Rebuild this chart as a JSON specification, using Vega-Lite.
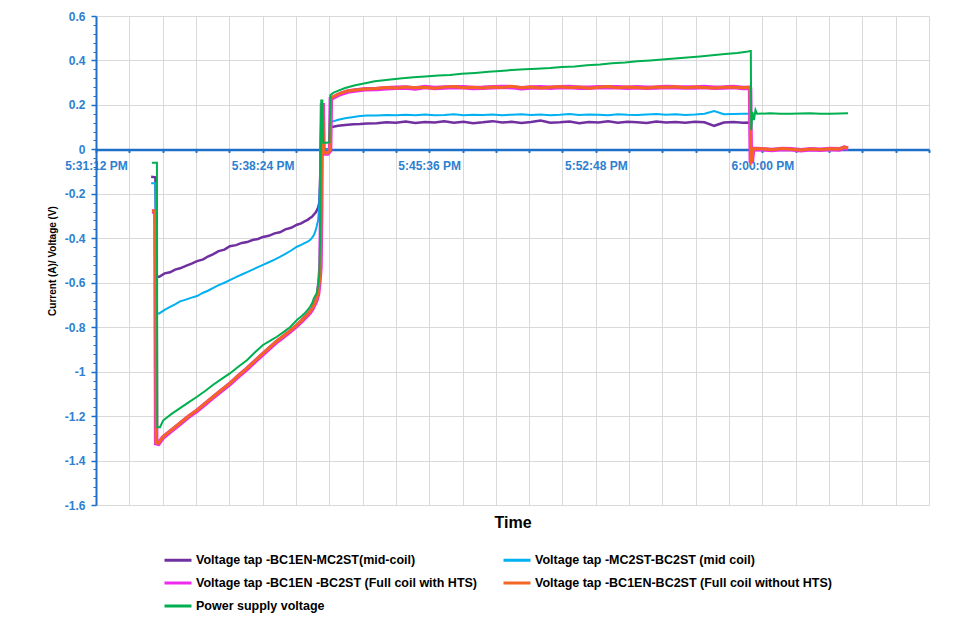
{
  "$schema": "https://vega.github.io/schema/vega-lite/v6.json",
  "width": 833,
  "height": 489,
  "autosize": {"type": "none"},
  "padding": {"left": 96, "top": 16, "right": 44, "bottom": 115},
  "background": "white",
  "config": {"view": {"stroke": null}, "font": "Liberation Sans"},
  "datasets": {
    "purple": [
      {"t":63215,"v":-0.123},{"t":63226,"v":-0.126},{"t":63229,"v":-0.573},{"t":63236,"v":-0.573},{"t":63250,"v":-0.558},{"t":63264,"v":-0.553},{"t":63277,"v":-0.541},{"t":63290,"v":-0.535},{"t":63305,"v":-0.524},{"t":63320,"v":-0.514},{"t":63334,"v":-0.503},{"t":63350,"v":-0.495},{"t":63362,"v":-0.482},{"t":63375,"v":-0.472},{"t":63390,"v":-0.458},{"t":63405,"v":-0.451},{"t":63419,"v":-0.436},{"t":63435,"v":-0.431},{"t":63450,"v":-0.421},{"t":63464,"v":-0.417},{"t":63478,"v":-0.408},{"t":63492,"v":-0.403},{"t":63505,"v":-0.394},{"t":63520,"v":-0.389},{"t":63535,"v":-0.378},{"t":63549,"v":-0.373},{"t":63563,"v":-0.36},{"t":63578,"v":-0.353},{"t":63593,"v":-0.339},{"t":63604,"v":-0.333},{"t":63614,"v":-0.323},{"t":63621,"v":-0.317},{"t":63627,"v":-0.309},{"t":63632,"v":-0.303},{"t":63637,"v":-0.293},{"t":63641,"v":-0.285},{"t":63644,"v":-0.277},{"t":63648,"v":-0.261},{"t":63651,"v":-0.241},{"t":63654,"v":-0.09},{"t":63656,"v":0.12},{"t":63659,"v":0.11},{"t":63661,"v":0.0},{"t":63677,"v":0.0},{"t":63680,"v":0.1},{"t":63687,"v":0.102},{"t":63700,"v":0.106},{"t":63718,"v":0.11},{"t":63740,"v":0.113},{"t":63757,"v":0.114},{"t":63775,"v":0.116},
      {"t":63800,"v":0.118},{"t":63825,"v":0.122},{"t":63850,"v":0.12},{"t":63875,"v":0.125},{"t":63900,"v":0.119},{"t":63925,"v":0.123},{"t":63950,"v":0.121},{"t":63975,"v":0.126},{"t":64000,"v":0.12},{"t":64025,"v":0.124},{"t":64050,"v":0.118},{"t":64075,"v":0.122},{"t":64100,"v":0.127},{"t":64125,"v":0.121},{"t":64150,"v":0.124},{"t":64175,"v":0.119},{"t":64200,"v":0.123},{"t":64225,"v":0.13},{"t":64250,"v":0.12},{"t":64275,"v":0.122},{"t":64300,"v":0.125},{"t":64325,"v":0.118},{"t":64350,"v":0.123},{"t":64375,"v":0.121},{"t":64400,"v":0.126},{"t":64425,"v":0.12},{"t":64450,"v":0.124},{"t":64475,"v":0.122},{"t":64500,"v":0.119},{"t":64525,"v":0.125},{"t":64550,"v":0.121},{"t":64575,"v":0.123},{"t":64600,"v":0.12},{"t":64625,"v":0.124},{"t":64650,"v":0.122},{"t":64675,"v":0.106},{"t":64700,"v":0.121},{"t":64725,"v":0.123},{"t":64750,"v":0.12},
      {"t":64766,"v":0.121},{"t":64769,"v":0.12},{"t":64771,"v":-0.01},{"t":64776,"v":0.0},{"t":64800,"v":0.0},{"t":64900,"v":0.0},{"t":65022,"v":0.0}
    ],
    "cyan": [
      {"t":63215,"v":-0.153},{"t":63226,"v":-0.153},{"t":63229,"v":-0.738},{"t":63236,"v":-0.738},{"t":63250,"v":-0.722},{"t":63264,"v":-0.709},{"t":63277,"v":-0.697},{"t":63290,"v":-0.684},{"t":63305,"v":-0.676},{"t":63320,"v":-0.667},{"t":63334,"v":-0.66},{"t":63350,"v":-0.645},{"t":63362,"v":-0.636},{"t":63375,"v":-0.624},{"t":63390,"v":-0.611},{"t":63405,"v":-0.6},{"t":63419,"v":-0.588},{"t":63435,"v":-0.575},{"t":63450,"v":-0.563},{"t":63464,"v":-0.552},{"t":63478,"v":-0.541},{"t":63492,"v":-0.53},{"t":63505,"v":-0.52},{"t":63520,"v":-0.508},{"t":63535,"v":-0.496},{"t":63549,"v":-0.484},{"t":63563,"v":-0.47},{"t":63578,"v":-0.455},{"t":63593,"v":-0.438},{"t":63604,"v":-0.43},{"t":63614,"v":-0.421},{"t":63621,"v":-0.415},{"t":63627,"v":-0.408},{"t":63632,"v":-0.398},{"t":63637,"v":-0.385},{"t":63641,"v":-0.368},{"t":63644,"v":-0.348},{"t":63648,"v":-0.318},{"t":63651,"v":-0.25},{"t":63654,"v":-0.093},{"t":63656,"v":0.155},{"t":63659,"v":0.13},{"t":63661,"v":0.0},{"t":63677,"v":0.0},{"t":63680,"v":0.125},{"t":63687,"v":0.126},{"t":63700,"v":0.133},{"t":63718,"v":0.14},{"t":63740,"v":0.146},{"t":63757,"v":0.15},{"t":63775,"v":0.152},
      {"t":63800,"v":0.152},{"t":63825,"v":0.155},{"t":63850,"v":0.153},{"t":63875,"v":0.156},{"t":63900,"v":0.154},{"t":63925,"v":0.157},{"t":63950,"v":0.153},{"t":63975,"v":0.155},{"t":64000,"v":0.158},{"t":64025,"v":0.154},{"t":64050,"v":0.156},{"t":64075,"v":0.155},{"t":64100,"v":0.157},{"t":64125,"v":0.154},{"t":64150,"v":0.156},{"t":64175,"v":0.158},{"t":64200,"v":0.155},{"t":64225,"v":0.157},{"t":64250,"v":0.154},{"t":64275,"v":0.156},{"t":64300,"v":0.159},{"t":64325,"v":0.155},{"t":64350,"v":0.157},{"t":64375,"v":0.156},{"t":64400,"v":0.154},{"t":64425,"v":0.158},{"t":64450,"v":0.156},{"t":64475,"v":0.155},{"t":64500,"v":0.157},{"t":64525,"v":0.159},{"t":64550,"v":0.156},{"t":64575,"v":0.158},{"t":64600,"v":0.155},{"t":64625,"v":0.157},{"t":64650,"v":0.16},{"t":64675,"v":0.172},{"t":64700,"v":0.158},{"t":64725,"v":0.159},{"t":64750,"v":0.16},
      {"t":64766,"v":0.16},{"t":64769,"v":0.158},{"t":64771,"v":-0.01},{"t":64776,"v":0.0},{"t":64800,"v":0.0},{"t":64900,"v":0.0},{"t":65022,"v":0.0}
    ],
    "magenta": [
      {"t":63217,"v":-0.279},{"t":63226,"v":-0.279},{"t":63228,"v":-1.322},{"t":63234,"v":-1.324},{"t":63246,"v":-1.296},{"t":63268,"v":-1.265},{"t":63290,"v":-1.234},{"t":63312,"v":-1.203},{"t":63334,"v":-1.176},{"t":63355,"v":-1.146},{"t":63375,"v":-1.117},{"t":63397,"v":-1.086},{"t":63419,"v":-1.056},{"t":63441,"v":-1.021},{"t":63464,"v":-0.987},{"t":63485,"v":-0.953},{"t":63505,"v":-0.921},{"t":63523,"v":-0.893},{"t":63541,"v":-0.865},{"t":63558,"v":-0.843},{"t":63575,"v":-0.82},{"t":63593,"v":-0.793},{"t":63604,"v":-0.775},{"t":63614,"v":-0.757},{"t":63621,"v":-0.745},{"t":63627,"v":-0.733},{"t":63633,"v":-0.718},{"t":63637,"v":-0.703},{"t":63641,"v":-0.689},{"t":63644,"v":-0.676},{"t":63648,"v":-0.649},{"t":63651,"v":-0.6},{"t":63654,"v":-0.53},{"t":63656,"v":-0.26},{"t":63657,"v":0.04},{"t":63658,"v":0.198},{"t":63660,"v":0.198},{"t":63662,"v":-0.005},{"t":63664,"v":-0.019},{"t":63673,"v":-0.019},{"t":63679,"v":-0.005},{"t":63681,"v":0.228},{"t":63691,"v":0.237},{"t":63705,"v":0.249},{"t":63725,"v":0.26},{"t":63744,"v":0.265},{"t":63770,"v":0.27},
      {"t":63800,"v":0.272},{"t":63825,"v":0.275},{"t":63850,"v":0.277},{"t":63875,"v":0.278},{"t":63900,"v":0.274},{"t":63925,"v":0.28},{"t":63950,"v":0.276},{"t":63975,"v":0.278},{"t":64000,"v":0.28},{"t":64025,"v":0.279},{"t":64050,"v":0.276},{"t":64075,"v":0.277},{"t":64100,"v":0.279},{"t":64125,"v":0.281},{"t":64150,"v":0.28},{"t":64175,"v":0.275},{"t":64200,"v":0.278},{"t":64225,"v":0.279},{"t":64250,"v":0.277},{"t":64275,"v":0.28},{"t":64300,"v":0.281},{"t":64325,"v":0.277},{"t":64350,"v":0.277},{"t":64375,"v":0.28},{"t":64400,"v":0.28},{"t":64425,"v":0.279},{"t":64450,"v":0.277},{"t":64475,"v":0.279},{"t":64500,"v":0.277},{"t":64525,"v":0.278},{"t":64550,"v":0.281},{"t":64575,"v":0.279},{"t":64600,"v":0.278},{"t":64625,"v":0.278},{"t":64650,"v":0.28},{"t":64675,"v":0.277},{"t":64700,"v":0.278},{"t":64725,"v":0.281},{"t":64750,"v":0.276},
      {"t":64766,"v":0.277},{"t":64768,"v":0.274},{"t":64770,"v":-0.06},{"t":64773,"v":-0.05},{"t":64776,"v":0.002},{"t":64800,"v":0.001},{"t":64825,"v":-0.003},{"t":64850,"v":0.002},{"t":64875,"v":0.0},{"t":64900,"v":-0.004},{"t":64925,"v":0.001},{"t":64950,"v":-0.002},{"t":64975,"v":0.002},{"t":65000,"v":0.0},{"t":65012,"v":0.008},{"t":65022,"v":0.004}
    ],
    "orange": [
      {"t":63217,"v":-0.277},{"t":63226,"v":-0.277},{"t":63228,"v":-1.32},{"t":63234,"v":-1.322},{"t":63246,"v":-1.293},{"t":63268,"v":-1.262},{"t":63290,"v":-1.231},{"t":63312,"v":-1.2},{"t":63334,"v":-1.173},{"t":63355,"v":-1.143},{"t":63375,"v":-1.114},{"t":63397,"v":-1.083},{"t":63419,"v":-1.053},{"t":63441,"v":-1.018},{"t":63464,"v":-0.984},{"t":63485,"v":-0.95},{"t":63505,"v":-0.918},{"t":63523,"v":-0.89},{"t":63541,"v":-0.862},{"t":63558,"v":-0.84},{"t":63575,"v":-0.817},{"t":63593,"v":-0.79},{"t":63604,"v":-0.772},{"t":63614,"v":-0.754},{"t":63621,"v":-0.742},{"t":63627,"v":-0.73},{"t":63633,"v":-0.715},{"t":63637,"v":-0.7},{"t":63641,"v":-0.686},{"t":63644,"v":-0.673},{"t":63648,"v":-0.646},{"t":63651,"v":-0.597},{"t":63654,"v":-0.528},{"t":63656,"v":-0.258},{"t":63657,"v":0.042},{"t":63658,"v":0.2},{"t":63660,"v":0.2},{"t":63662,"v":-0.003},{"t":63664,"v":-0.016},{"t":63673,"v":-0.016},{"t":63679,"v":-0.003},{"t":63681,"v":0.231},{"t":63691,"v":0.24},{"t":63705,"v":0.252},{"t":63725,"v":0.263},{"t":63744,"v":0.267},{"t":63770,"v":0.272},
      {"t":63800,"v":0.274},{"t":63825,"v":0.278},{"t":63850,"v":0.276},{"t":63875,"v":0.281},{"t":63900,"v":0.277},{"t":63925,"v":0.279},{"t":63950,"v":0.275},{"t":63975,"v":0.28},{"t":64000,"v":0.283},{"t":64025,"v":0.277},{"t":64050,"v":0.279},{"t":64075,"v":0.276},{"t":64100,"v":0.281},{"t":64125,"v":0.278},{"t":64150,"v":0.284},{"t":64175,"v":0.277},{"t":64200,"v":0.28},{"t":64225,"v":0.276},{"t":64250,"v":0.279},{"t":64275,"v":0.282},{"t":64300,"v":0.278},{"t":64325,"v":0.28},{"t":64350,"v":0.275},{"t":64375,"v":0.279},{"t":64400,"v":0.283},{"t":64425,"v":0.277},{"t":64450,"v":0.28},{"t":64475,"v":0.278},{"t":64500,"v":0.276},{"t":64525,"v":0.281},{"t":64550,"v":0.279},{"t":64575,"v":0.282},{"t":64600,"v":0.277},{"t":64625,"v":0.28},{"t":64650,"v":0.278},{"t":64675,"v":0.276},{"t":64700,"v":0.28},{"t":64725,"v":0.279},{"t":64750,"v":0.277},
      {"t":64766,"v":0.279},{"t":64768,"v":0.276},{"t":64770,"v":-0.057},{"t":64773,"v":-0.048},{"t":64776,"v":0.004},{"t":64800,"v":0.003},{"t":64825,"v":-0.002},{"t":64850,"v":0.004},{"t":64875,"v":0.001},{"t":64900,"v":-0.003},{"t":64925,"v":0.002},{"t":64950,"v":-0.001},{"t":64975,"v":0.003},{"t":65000,"v":0.002},{"t":65012,"v":0.01},{"t":65022,"v":0.006}
    ],
    "green": [
      {"t":63217,"v":-0.06},{"t":63230,"v":-0.06},{"t":63231,"v":-1.25},{"t":63238,"v":-1.25},{"t":63246,"v":-1.22},{"t":63268,"v":-1.19},{"t":63290,"v":-1.164},{"t":63312,"v":-1.138},{"t":63334,"v":-1.113},{"t":63355,"v":-1.087},{"t":63375,"v":-1.06},{"t":63397,"v":-1.034},{"t":63419,"v":-1.008},{"t":63441,"v":-0.978},{"t":63464,"v":-0.948},{"t":63485,"v":-0.912},{"t":63505,"v":-0.88},{"t":63523,"v":-0.862},{"t":63541,"v":-0.843},{"t":63558,"v":-0.822},{"t":63575,"v":-0.8},{"t":63593,"v":-0.768},{"t":63604,"v":-0.752},{"t":63614,"v":-0.736},{"t":63621,"v":-0.722},{"t":63627,"v":-0.708},{"t":63633,"v":-0.69},{"t":63637,"v":-0.669},{"t":63641,"v":-0.658},{"t":63644,"v":-0.648},{"t":63648,"v":-0.61},{"t":63651,"v":-0.565},{"t":63653,"v":-0.41},{"t":63654,"v":-0.14},{"t":63656,"v":0.22},{"t":63659,"v":0.22},{"t":63661,"v":0.03},{"t":63671,"v":0.03},{"t":63677,"v":0.032},{"t":63680,"v":0.245},{"t":63687,"v":0.254},{"t":63699,"v":0.263},{"t":63718,"v":0.276},{"t":63744,"v":0.288},{"t":63770,"v":0.297},{"t":63795,"v":0.306},{"t":63830,"v":0.313},{"t":63860,"v":0.319},{"t":63895,"v":0.324},{"t":63925,"v":0.328},{"t":63960,"v":0.332},{"t":63990,"v":0.335},{"t":64020,"v":0.34},{"t":64055,"v":0.344},{"t":64090,"v":0.349},{"t":64120,"v":0.353},{"t":64150,"v":0.357},{"t":64184,"v":0.36},{"t":64215,"v":0.363},{"t":64249,"v":0.366},{"t":64280,"v":0.37},{"t":64314,"v":0.373},{"t":64345,"v":0.378},{"t":64379,"v":0.382},{"t":64410,"v":0.387},{"t":64444,"v":0.391},{"t":64475,"v":0.396},{"t":64509,"v":0.4},{"t":64540,"v":0.404},{"t":64573,"v":0.409},{"t":64605,"v":0.413},{"t":64638,"v":0.418},{"t":64670,"v":0.423},{"t":64703,"v":0.429},{"t":64735,"v":0.434},{"t":64763,"v":0.44},{"t":64768,"v":0.443},{"t":64770,"v":0.443},{"t":64771,"v":0.087},{"t":64774,"v":0.168},{"t":64778,"v":0.132},{"t":64782,"v":0.177},{"t":64786,"v":0.16},{"t":64820,"v":0.162},{"t":64846,"v":0.16},{"t":64872,"v":0.16},{"t":64898,"v":0.161},{"t":64923,"v":0.162},{"t":64950,"v":0.16},{"t":64975,"v":0.16},{"t":65000,"v":0.161},{"t":65022,"v":0.162}
    ]
  },
  "layer": [
    {
      "encoding": {
        "x": {
          "field": "t", "type": "quantitative",
          "scale": {"domain": [63072, 65232], "nice": false, "zero": false},
          "axis": {
            "orient": "bottom", "offset": -355.6,
            "values": [63072,63158.4,63244.8,63331.2,63417.6,63504,63590.4,63676.8,63763.2,63849.6,63936,64022.4,64108.8,64195.2,64281.6,64368,64454.4,64540.8,64627.2,64713.6,64800,64886.4,64972.8,65059.2,65145.6,65232],
            "labelExpr": "datum.value < 65100 && abs((datum.value - 63072) / 432 - round((datum.value - 63072) / 432)) < 0.001 ? utcFormat(round(datum.value) * 1000, '%-I:%M:%S %p') : ''",
            "labelOverlap": false, "labelFlush": false,
            "labelFont": "Liberation Sans", "labelFontSize": 12, "labelFontWeight": "bold", "labelColor": "#2E7FD0",
            "labelPadding": 8,
            "tickColor": "#1E6FC8", "tickSize": 3, "tickWidth": 2,
            "domainColor": "#1E6FC8", "domainWidth": 2.5,
            "grid": true, "gridColor": "#D9D9D9", "gridWidth": 1,
            "title": "Time", "titleFont": "Liberation Sans", "titleFontSize": 16, "titleFontWeight": "bold", "titleColor": "#000000",
            "titleY": 373, "titleBaseline": "middle"
          }
        },
        "y": {
          "field": "v", "type": "quantitative",
          "scale": {"domain": [-1.6, 0.6], "nice": false, "zero": false},
          "axis": {
            "values": [-1.6,-1.4,-1.2,-1,-0.8,-0.6,-0.4,-0.2,0,0.2,0.4,0.6],
            "labelExpr": "replace(format(datum.value, '~g'), '\u2212', '-')",
            "labelFont": "Liberation Sans", "labelFontSize": 12, "labelFontWeight": "bold", "labelColor": "#2E7FD0",
            "labelPadding": 6,
            "tickColor": "#1E6FC8", "tickSize": 5, "tickWidth": 1.5,
            "domainColor": "#1E6FC8", "domainWidth": 2,
            "grid": true, "gridColor": "#D9D9D9", "gridWidth": 1,
            "title": "Current (A)/ Voltage (V)", "titleFont": "Liberation Sans", "titleFontSize": 10, "titleFontWeight": "bold", "titleColor": "#000000",
            "titlePadding": 7
          }
        }
      },
      "layer": [
        {
          "data": {"name": "purple"},
          "mark": {"type": "line", "strokeWidth": 2.5},
          "encoding": {
            "color": {
              "datum": "Voltage tap -BC1EN-MC2ST(mid-coil)", "type": "nominal",
              "scale": {
                "domain": ["Voltage tap -BC1EN-MC2ST(mid-coil)", "Voltage tap -MC2ST-BC2ST (mid coil)", "Voltage tap -BC1EN -BC2ST (Full coil with HTS)", "Voltage tap -BC1EN-BC2ST (Full coil without HTS)", "Power supply voltage"],
                "range": ["#7030A0", "#00B0F0", "#EE2AEE", "#F26522", "#00B050"]
              },
              "legend": {
                "orient": "none", "legendX": 67, "legendY": 529, "columns": 2, "direction": "horizontal",
                "title": null, "padding": 0,
                "symbolType": "stroke", "symbolSize": 729, "symbolStrokeWidth": 3,
                "labelFont": "Liberation Sans", "labelFontSize": 12.5, "labelFontWeight": "bold", "labelColor": "#000000",
                "labelOffset": 3, "columnPadding": 19, "rowPadding": 1, "labelLimit": 400
              }
            }
          }
        },
        {
          "data": {"name": "cyan"},
          "mark": {"type": "line", "strokeWidth": 2},
          "encoding": {"color": {"datum": "Voltage tap -MC2ST-BC2ST (mid coil)", "type": "nominal"}}
        },
        {
          "data": {"name": "magenta"},
          "mark": {"type": "line", "strokeWidth": 4.5},
          "encoding": {"color": {"datum": "Voltage tap -BC1EN -BC2ST (Full coil with HTS)", "type": "nominal"}}
        },
        {
          "data": {"name": "orange"},
          "mark": {"type": "line", "strokeWidth": 3},
          "encoding": {"color": {"datum": "Voltage tap -BC1EN-BC2ST (Full coil without HTS)", "type": "nominal"}}
        },
        {
          "data": {"name": "green"},
          "mark": {"type": "line", "strokeWidth": 2},
          "encoding": {"color": {"datum": "Power supply voltage", "type": "nominal"}}
        }
      ]
    },
    {
      "data": {"name": "green"},
      "mark": {"type": "rule", "opacity": 0},
      "encoding": {
        "y": {
          "field": "v", "type": "quantitative",
          "axis": {
            "orient": "left",
            "values": [-1.56,-1.52,-1.48,-1.44,-1.36,-1.32,-1.28,-1.24,-1.16,-1.12,-1.08,-1.04,-0.96,-0.92,-0.88,-0.84,-0.76,-0.72,-0.68,-0.64,-0.56,-0.52,-0.48,-0.44,-0.36,-0.32,-0.28,-0.24,-0.16,-0.12,-0.08,-0.04,0.04,0.08,0.12,0.16,0.24,0.28,0.32,0.36,0.44,0.48,0.52,0.56],
            "labels": false, "grid": false, "domain": false,
            "tickColor": "#1E6FC8", "tickSize": 3, "tickWidth": 1,
            "title": null
          }
        }
      }
    }
  ],
  "resolve": {"axis": {"y": "independent"}}
}
